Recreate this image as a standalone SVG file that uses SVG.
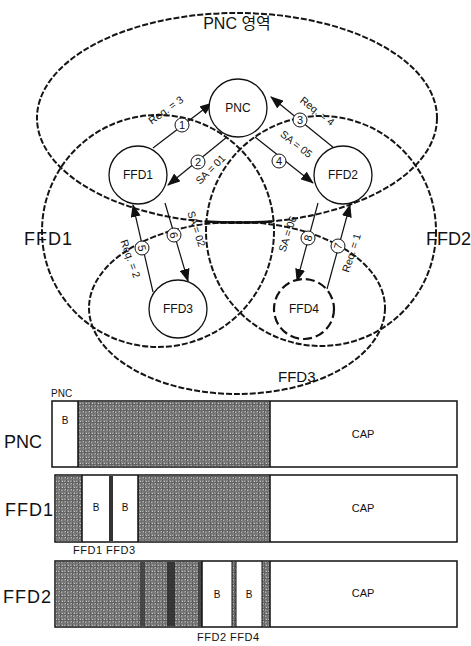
<svg xmlns="http://www.w3.org/2000/svg" width="471" height="646" viewBox="0 0 471 646">
<style>
text{font-family:"Liberation Sans","Noto Sans CJK KR",Arial,sans-serif;fill:#111}
.area{fill:none;stroke:#151515;stroke-width:2;stroke-dasharray:6 2}
.node{fill:#fff;stroke:#111;stroke-width:1.3}
.nodeD{fill:#fff;stroke:#111;stroke-width:2.2;stroke-dasharray:9 4}
.nt{font-size:12px;text-anchor:middle}
.edge{stroke:#111;stroke-width:1.2;fill:none;marker-end:url(#ah)}
.num{fill:#fff;stroke:#111;stroke-width:1}
.nn{font-size:11px;text-anchor:middle}
.lab{font-size:10.5px;text-anchor:middle}
.big{font-size:18px;letter-spacing:1px}
.bar{fill:#fff;stroke:#111;stroke-width:1.5}
.gray{fill:url(#ht)}
.bt{font-size:10px;text-anchor:middle}
.ct{font-size:11px;text-anchor:middle}
.small{font-size:11px;letter-spacing:0.5px}
</style>
<defs>
<marker id="ah" markerWidth="13" markerHeight="10" refX="12" refY="5" orient="auto" markerUnits="userSpaceOnUse">
<path d="M0,0 L13,5 L0,10 z" fill="#111"/>
</marker>
<pattern id="ht" width="6" height="6" patternUnits="userSpaceOnUse">
<rect width="6" height="6" fill="#858585"/>
<rect x="0" y="0" width="1" height="6" fill="#5c5c5c"/>
<rect x="3" y="0" width="1" height="6" fill="#6e6e6e"/>
<rect x="0" y="2" width="6" height="1" fill="#636363"/>
<rect x="0" y="5" width="6" height="1" fill="#747474"/>
<rect x="2" y="1" width="1" height="1" fill="#c8c8c8"/>
<rect x="5" y="3" width="1" height="1" fill="#bdbdbd"/>
<rect x="1" y="4" width="1" height="1" fill="#b0b0b0"/>
<rect x="4" y="1" width="1" height="1" fill="#a8a8a8"/>
</pattern>
</defs>

<g id="areas">
<ellipse id="area-pnc" class="area" cx="237" cy="118" rx="200" ry="105"/>
<circle id="area-ffd1" class="area" cx="158" cy="231" r="116"/>
<circle id="area-ffd2" class="area" cx="321" cy="231" r="115"/>
<ellipse id="area-ffd3" class="area" cx="237" cy="308" rx="148" ry="86"/>
<path d="M205,221.5 Q237,223.5 272,221.5" fill="none" stroke="#111" stroke-width="2.6"/>
<text x="237" y="29" style="font-size:16px" text-anchor="middle">PNC 영역</text>
<text x="24" y="245" class="big">FFD1</text>
<text x="426" y="245" class="big" style="letter-spacing:0">FFD2</text>
<text x="278" y="382" style="font-size:15px">FFD3</text>
</g>

<g id="connectors">
<line class="edge" x1="153" y1="148" x2="212" y2="103"/>
<line class="edge" x1="227" y1="137" x2="168" y2="185"/>
<line class="edge" x1="334" y1="148" x2="271" y2="97"/>
<line class="edge" x1="255" y1="137" x2="313" y2="183"/>
<line class="edge" x1="153" y1="292" x2="133" y2="205"/>
<line class="edge" x1="165" y1="203" x2="188" y2="281"/>
<line class="edge" x1="327" y1="289" x2="350" y2="205"/>
<line class="edge" x1="318" y1="203" x2="297" y2="281"/>

<circle class="num" cx="182" cy="125" r="7"/><text class="nn" x="182" y="129">1</text>
<circle class="num" cx="198" cy="162" r="7"/><text class="nn" x="198" y="166">2</text>
<circle class="num" cx="300" cy="120" r="7"/><text class="nn" x="300" y="124">3</text>
<circle class="num" cx="279" cy="161" r="7"/><text class="nn" x="279" y="165">4</text>
<circle class="num" cx="142" cy="248" r="7"/><text class="nn" transform="translate(142,248) rotate(77)" x="0" y="4">5</text>
<circle class="num" cx="174" cy="235" r="7"/><text class="nn" transform="translate(174,235) rotate(74)" x="0" y="4">6</text>
<circle class="num" cx="338" cy="246" r="7"/><text class="nn" transform="translate(338,246) rotate(-75)" x="0" y="4">7</text>
<circle class="num" cx="308" cy="238" r="7"/><text class="nn" transform="translate(308,238) rotate(-75)" x="0" y="4">8</text>

<text class="lab" transform="translate(168,113) rotate(-36)">Req. = 3</text>
<text class="lab" transform="translate(213,172) rotate(-45)">SA = 01</text>
<text class="lab" transform="translate(315,114) rotate(38)">Req. = 4</text>
<text class="lab" transform="translate(294,147) rotate(38)">SA = 05</text>
<text class="lab" transform="translate(127,260) rotate(70)">Req. = 2</text>
<text class="lab" transform="translate(193,230) rotate(72)">SA = 02</text>
<text class="lab" transform="translate(355,254) rotate(-72)">Req. = 1</text>
<text class="lab" transform="translate(291,235) rotate(-72)">SA = 06</text>
</g>

<g id="node-pnc"><circle class="node" cx="238" cy="108" r="29"/><text class="nt" x="238" y="112">PNC</text></g>
<g id="node-ffd1"><circle class="node" cx="138" cy="175" r="29"/><text class="nt" x="138" y="179">FFD1</text></g>
<g id="node-ffd2"><circle class="node" cx="343" cy="175" r="29"/><text class="nt" x="343" y="179">FFD2</text></g>
<g id="node-ffd3"><circle class="node" cx="178" cy="309" r="29"/><text class="nt" x="178" y="313">FFD3</text></g>
<g id="node-ffd4"><circle class="nodeD" cx="304" cy="309" r="30"/><text class="nt" x="304" y="313">FFD4</text></g>

<g id="bar-pnc">
<rect class="bar" x="52" y="401" width="405" height="66"/>
<rect class="gray" x="78" y="402" width="192" height="64"/>
<line x1="78" y1="401" x2="78" y2="467" stroke="#111" stroke-width="1.5"/>
<line x1="270" y1="401" x2="270" y2="467" stroke="#111" stroke-width="1.5"/>
<text class="bt" x="65" y="424">B</text>
<text class="ct" x="363" y="438">CAP</text>
<text x="51" y="397" style="font-size:10px">PNC</text>
<text x="4" y="448" class="big" style="letter-spacing:0">PNC</text>
</g>

<g id="bar-ffd1">
<rect class="bar" x="55" y="475" width="402" height="67"/>
<rect class="gray" x="56" y="476" width="26" height="65"/>
<rect x="109" y="476" width="4" height="65" fill="#333"/>
<rect class="gray" x="138" y="476" width="132" height="65"/>
<line x1="82" y1="475" x2="82" y2="542" stroke="#111" stroke-width="1.5"/>
<line x1="138" y1="475" x2="138" y2="542" stroke="#111" stroke-width="1.5"/>
<line x1="270" y1="475" x2="270" y2="542" stroke="#111" stroke-width="1.5"/>
<text class="bt" x="96" y="511">B</text>
<text class="bt" x="125" y="511">B</text>
<text class="ct" x="363" y="512">CAP</text>
<text x="73" y="554" class="small">FFD1 FFD3</text>
<text x="5" y="516" class="big">FFD1</text>
</g>

<g id="bar-ffd2">
<rect class="bar" x="55" y="561" width="402" height="66"/>
<rect class="gray" x="56" y="562" width="146" height="64"/>
<rect x="140" y="562" width="5" height="64" fill="#3a3a3a" opacity="0.8"/>
<rect x="167" y="562" width="8" height="64" fill="#2a2a2a" opacity="0.85"/>
<rect x="198" y="562" width="4" height="64" fill="#3a3a3a" opacity="0.8"/>
<rect class="gray" x="232" y="562" width="4" height="64"/>
<rect class="gray" x="262" y="562" width="8" height="64"/>
<line x1="202" y1="561" x2="202" y2="627" stroke="#111" stroke-width="1.5"/>
<line x1="232" y1="561" x2="232" y2="627" stroke="#111" stroke-width="1"/>
<line x1="236" y1="561" x2="236" y2="627" stroke="#111" stroke-width="1"/>
<line x1="262" y1="561" x2="262" y2="627" stroke="#111" stroke-width="1"/>
<line x1="270" y1="561" x2="270" y2="627" stroke="#111" stroke-width="1.5"/>
<text class="bt" x="217" y="598">B</text>
<text class="bt" x="249" y="598">B</text>
<text class="ct" x="363" y="597">CAP</text>
<text x="197" y="641" class="small">FFD2 FFD4</text>
<text x="3" y="603" class="big">FFD2</text>
</g>
</svg>
